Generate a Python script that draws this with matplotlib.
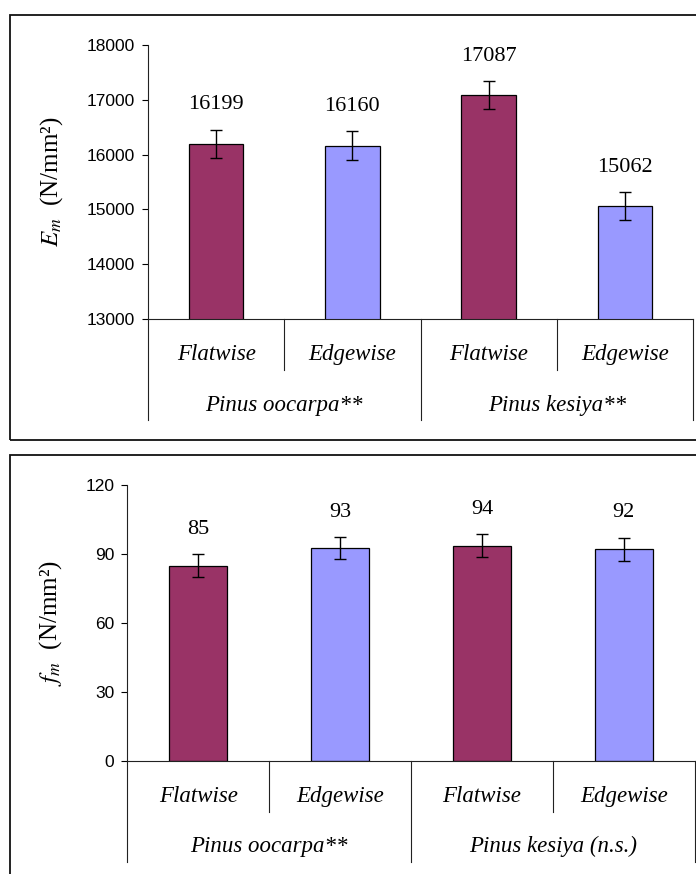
import numpy as np
import matplotlib
matplotlib.use("Agg")
import matplotlib.pyplot as plt
from matplotlib.patches import Rectangle
import matplotlib.transforms as mtransforms

plt.rcParams['mathtext.fontset'] = 'stix'

# data
orientations = ['Flatwise', 'Edgewise', 'Flatwise', 'Edgewise']
em_values = [16199, 16160, 17087, 15062]
em_err = [255, 265, 250, 250]
em_groups = ['Pinus oocarpa**', 'Pinus kesiya**']
em_ticks = [13000, 14000, 15000, 16000, 17000, 18000]

fm_values = [85, 92.5, 93.6, 92]
fm_labels = ['85', '93', '94', '92']
fm_err = [5, 4.8, 5, 5]
fm_groups = ['Pinus oocarpa**', 'Pinus kesiya (n.s.)']
fm_ticks = [0, 30, 60, 90, 120]

bar_colors = ['#993366', '#9999FF', '#993366', '#9999FF']

W, H = 696, 874
fig = plt.figure(figsize=(W / 100, H / 100), dpi=100)

serif = 'Liberation Serif'
sans = 'Liberation Sans'


def px_axes(left, top, right, bottom):
    return fig.add_axes([left / W, 1 - bottom / H, (right - left) / W, (bottom - top) / H])


def frame(x0, y0, x1, y1):
    fig.patches.append(Rectangle((x0 / W, 1 - y1 / H), (x1 - x0) / W, (y1 - y0) / H,
                                 transform=fig.transFigure, fill=False,
                                 edgecolor='#111111', linewidth=1.3))


def draw_panel(ax, values, errs, labels, ticks, groups, width, ylabel,
               inner_y, outer_y, cat_y, grp_y):
    x = np.arange(len(values))
    ax.bar(x, values, width=width, color=bar_colors, edgecolor='black',
           linewidth=0.9, zorder=2)
    ax.errorbar(x, values, yerr=errs, fmt='none', ecolor='black',
                elinewidth=1.0, capsize=4, capthick=1.0, zorder=3)
    for xi, v, e, lab in zip(x, values, errs, labels):
        ax.annotate(lab, (xi, v + e), xytext=(0, 18), textcoords='offset points',
                    ha='center', va='center', fontsize=16, family=serif)

    ax.set_xlim(-0.5, len(values) - 0.5)
    ax.set_ylim(ticks[0], ticks[-1])
    ax.set_yticks(ticks)
    ax.set_yticklabels([str(t) for t in ticks], fontsize=12.5, family=sans)
    ax.set_xticks([])
    ax.tick_params(axis='y', direction='out', length=4, width=0.8, pad=5.5)
    for s in ['top', 'right']:
        ax.spines[s].set_visible(False)
    for s in ['left', 'bottom']:
        ax.spines[s].set_linewidth(0.8)
        ax.spines[s].set_color('#222222')

    ax.set_ylabel(ylabel, fontsize=18, family=serif)

    # category/group table under the axis
    tr = mtransforms.blended_transform_factory(ax.transData, ax.transAxes)
    for xd in [0.5, 2.5]:
        ax.plot([xd, xd], [0, inner_y], transform=tr, color='#222222',
                linewidth=0.8, clip_on=False)
    for xd in [-0.5, 1.5, 3.5]:
        ax.plot([xd, xd], [0, outer_y], transform=tr, color='#222222',
                linewidth=0.8, clip_on=False)
    for xi, lab in zip(x, orientations):
        ax.text(xi, cat_y, lab, transform=tr, ha='center', va='center',
                fontsize=16.5, family=serif, style='italic')
    for gi, g in enumerate(groups):
        ax.text(2 * gi + 0.5, grp_y, g, transform=tr, ha='center', va='center',
                fontsize=16.5, family=serif, style='italic')


# outer frames
frame(10, 14.5, 720, 440)
frame(10, 455, 720, 900)

ax1 = px_axes(148, 45, 693, 319)
draw_panel(ax1, em_values, em_err, [str(v) for v in em_values], em_ticks,
           em_groups, 0.40, r'$E_m$  (N/mm²)',
           -0.186, -0.369, -0.131, -0.314)
ax1.yaxis.set_label_coords(-0.152, 0.5)

ax2 = px_axes(127.4, 485, 694.6, 761)
draw_panel(ax2, fm_values, fm_err, fm_labels, fm_ticks,
           fm_groups, 0.41, r'$f_m$  (N/mm²)',
           -0.185, -0.365, -0.129, -0.31)
ax2.yaxis.set_label_coords(-0.112, 0.5)

fig.savefig('out.png', dpi=100)
